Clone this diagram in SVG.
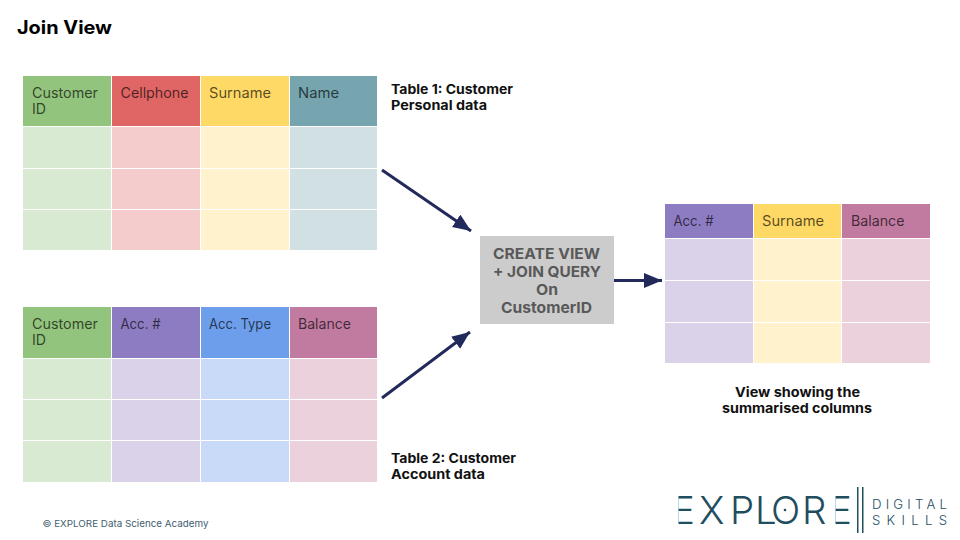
<svg xmlns="http://www.w3.org/2000/svg" width="960" height="540" viewBox="0 0 960 540">
<style>
text{font-family:"Inter","Liberation Sans",sans-serif;white-space:pre}
.h{font-size:14px;fill:#000;fill-opacity:.68;font-weight:400}
.b{font-size:13px;font-weight:700;fill:#111}
.c{font-size:15px;font-weight:700;fill:#595959}
.a{stroke:#222a5c;stroke-width:3;fill:none;marker-end:url(#arr)}
.g1{fill:#93c47d}.g2{fill:#d9ead3}
.r1{fill:#e06666}.r2{fill:#f4cccc}
.y1{fill:#ffd966}.y2{fill:#fff2cc}
.t1{fill:#76a5af}.t2{fill:#d0e0e3}
.p1{fill:#8e7cc3}.p2{fill:#d9d2e9}
.u1{fill:#6d9eeb}.u2{fill:#c9daf8}
.m1{fill:#c27ba0}.m2{fill:#ead1dc}
.l{fill:#1f4e5f}
</style>
<defs>
<marker id="arr" markerUnits="userSpaceOnUse" markerWidth="20" markerHeight="16" refX="18" refY="7.500" orient="auto"><path d="M0 0L18 7.500L0 15Z" fill="#222a5c"/></marker>
</defs>
<rect width="960" height="540" fill="#fff"/>
<text id="title" x="17" y="34" font-size="18.500" font-weight="700" fill="#000" textLength="95" lengthAdjust="spacingAndGlyphs">Join View</text>
<g id="table1">
<rect class="g1" x="23" y="76" width="88" height="50"/><rect class="r1" x="112" y="76" width="88" height="50"/><rect class="y1" x="201" y="76" width="88" height="50"/><rect class="t1" x="290" y="76" width="87" height="50"/>
<rect class="g2" x="23" y="127" width="88" height="41"/><rect class="r2" x="112" y="127" width="88" height="41"/><rect class="y2" x="201" y="127" width="88" height="41"/><rect class="t2" x="290" y="127" width="87" height="41"/>
<rect class="g2" x="23" y="169" width="88" height="40"/><rect class="r2" x="112" y="169" width="88" height="40"/><rect class="y2" x="201" y="169" width="88" height="40"/><rect class="t2" x="290" y="169" width="87" height="40"/>
<rect class="g2" x="23" y="210" width="88" height="40"/><rect class="r2" x="112" y="210" width="88" height="40"/><rect class="y2" x="201" y="210" width="88" height="40"/><rect class="t2" x="290" y="210" width="87" height="40"/>
<text class="h" x="32" y="98" textLength="66" lengthAdjust="spacingAndGlyphs">Customer</text><text class="h" x="32" y="114" textLength="14" lengthAdjust="spacingAndGlyphs">ID</text><text class="h" x="120.500" y="98" textLength="68" lengthAdjust="spacingAndGlyphs">Cellphone</text><text class="h" x="209" y="98" textLength="62" lengthAdjust="spacingAndGlyphs">Surname</text><text class="h" x="298" y="98" textLength="41" lengthAdjust="spacingAndGlyphs">Name</text>
</g>
<g id="table2">
<rect class="g1" x="23" y="307" width="88" height="51"/><rect class="p1" x="112" y="307" width="88" height="51"/><rect class="u1" x="201" y="307" width="88" height="51"/><rect class="m1" x="290" y="307" width="87" height="51"/>
<rect class="g2" x="23" y="359" width="88" height="40"/><rect class="p2" x="112" y="359" width="88" height="40"/><rect class="u2" x="201" y="359" width="88" height="40"/><rect class="m2" x="290" y="359" width="87" height="40"/>
<rect class="g2" x="23" y="400" width="88" height="40"/><rect class="p2" x="112" y="400" width="88" height="40"/><rect class="u2" x="201" y="400" width="88" height="40"/><rect class="m2" x="290" y="400" width="87" height="40"/>
<rect class="g2" x="23" y="441" width="88" height="41"/><rect class="p2" x="112" y="441" width="88" height="41"/><rect class="u2" x="201" y="441" width="88" height="41"/><rect class="m2" x="290" y="441" width="87" height="41"/>
<text class="h" x="32" y="329" textLength="66" lengthAdjust="spacingAndGlyphs">Customer</text><text class="h" x="32" y="345" textLength="14" lengthAdjust="spacingAndGlyphs">ID</text><text class="h" x="120.500" y="329" textLength="40" lengthAdjust="spacingAndGlyphs">Acc. #</text><text class="h" x="209" y="329" textLength="62" lengthAdjust="spacingAndGlyphs">Acc. Type</text><text class="h" x="298" y="329" textLength="53" lengthAdjust="spacingAndGlyphs">Balance</text>
</g>
<g id="view">
<rect class="p1" x="665" y="204" width="88" height="34"/><rect class="y1" x="754" y="204" width="87" height="34"/><rect class="m1" x="842" y="204" width="88" height="34"/>
<rect class="p2" x="665" y="239" width="88" height="41"/><rect class="y2" x="754" y="239" width="87" height="41"/><rect class="m2" x="842" y="239" width="88" height="41"/>
<rect class="p2" x="665" y="281" width="88" height="41"/><rect class="y2" x="754" y="281" width="87" height="41"/><rect class="m2" x="842" y="281" width="88" height="41"/>
<rect class="p2" x="665" y="323" width="88" height="40"/><rect class="y2" x="754" y="323" width="87" height="40"/><rect class="m2" x="842" y="323" width="88" height="40"/>
<text class="h" x="673.500" y="226" textLength="40" lengthAdjust="spacingAndGlyphs">Acc. #</text><text class="h" x="762" y="226" textLength="62" lengthAdjust="spacingAndGlyphs">Surname</text><text class="h" x="851" y="226" textLength="53.500" lengthAdjust="spacingAndGlyphs">Balance</text>
</g>
<g id="query">
<rect x="480" y="236" width="134" height="88" fill="#cccccc"/>
<text class="c" x="493" y="259" textLength="107" lengthAdjust="spacingAndGlyphs">CREATE VIEW</text><text class="c" x="493" y="277" textLength="108" lengthAdjust="spacingAndGlyphs">+ JOIN QUERY</text><text class="c" x="536" y="295" textLength="22" lengthAdjust="spacingAndGlyphs">On</text><text class="c" x="501" y="313" textLength="91" lengthAdjust="spacingAndGlyphs">CustomerID</text>
</g>
<g id="connectors">
<line class="a" x1="382" y1="170" x2="471" y2="231"/>
<line class="a" x1="382" y1="398" x2="470" y2="332"/>
<line class="a" x1="614" y1="280.500" x2="662" y2="280.500"/>
</g>
<g id="labels">
<text class="b" x="391" y="94" textLength="122" lengthAdjust="spacingAndGlyphs">Table 1: Customer</text><text class="b" x="391" y="110" textLength="96" lengthAdjust="spacingAndGlyphs">Personal data</text>
<text class="b" x="391" y="463" textLength="125" lengthAdjust="spacingAndGlyphs">Table 2: Customer</text><text class="b" x="391" y="479" textLength="94" lengthAdjust="spacingAndGlyphs">Account data</text>
<text class="b" x="735" y="397" textLength="125" lengthAdjust="spacingAndGlyphs">View showing the</text><text class="b" x="722" y="413" textLength="150" lengthAdjust="spacingAndGlyphs">summarised columns</text>
<text x="42.500" y="527" font-size="9.500" fill="#3f6070" textLength="166" lengthAdjust="spacingAndGlyphs">© EXPLORE Data Science Academy</text>
</g>
<g id="logo">
<text class="l" y="524" font-size="38.500" font-weight="300" x="672 699 730 755 771 802 829">EXPLORE</text>
<rect x="672" y="494" width="6.500" height="32" fill="#fff"/><rect x="829" y="494" width="6.500" height="32" fill="#fff"/>
<circle class="l" cx="785" cy="510" r="1.300"/>
<rect class="l" x="857" y="487" width="1.500" height="46"/><rect class="l" x="862" y="487" width="1.500" height="46"/>
<text class="l" x="872" y="508.500" font-size="13.200" font-weight="300" textLength="75" lengthAdjust="spacing">DIGITAL</text>
<text class="l" x="872" y="524.500" font-size="13.200" font-weight="300" textLength="75" lengthAdjust="spacing">SKILLS</text>
</g>
</svg>
